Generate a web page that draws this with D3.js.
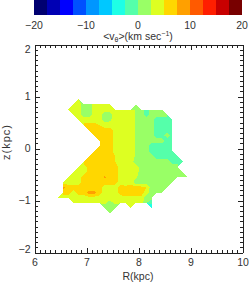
<!DOCTYPE html>
<html>
<head>
<meta charset="utf-8">
<script src="https://cdn.jsdelivr.net/npm/d3@7"></script>
<style>
  body { margin: 0; background: #fff; }
  svg { display: block; font-family: "Liberation Sans", Arial, sans-serif; }
  .lbl { fill: #333; font-size: 10.5px; }
</style>
</head>
<body>
<svg width="249" height="282"></svg>
<script>
// grid cell centres (kpc)
let rCentres = [6.45, 6.55, 6.65, 6.75, 6.85, 6.95, 7.05, 7.15, 7.25, 7.35, 7.45, 7.55, 7.65,
                7.75, 7.85, 7.95, 8.05, 8.15, 8.25, 8.35, 8.45, 8.55, 8.65, 8.75, 8.85, 8.95]
let zCentres = [0.95, 0.85, 0.75, 0.65, 0.55, 0.45, 0.35, 0.25, 0.15, 0.05, -0.05, -0.15,
                -0.25, -0.35, -0.45, -0.55, -0.65, -0.75, -0.85, -0.95, -1.05, -1.15, -1.25]

// mean v_theta (km/s), one row per z (top to bottom), null = no data
let _ = null
let vTheta = [
  [_,_,_,_,4,_,_,_,_,_,_,_,_,_,_,_,_,_,_,_,_,_,_,_,_,_],
  [_,_,_,4,4,1,1,4,4,4,4,_,_,_,_,3,_,_,_,_,_,_,_,_,_,_],
  [_,_,6,4,4,1,1,4,4,4,4,4,4,4,4,2,1,-1,1,1,1,_,_,_,_,_],
  [_,_,_,4,4,1,1,4,4,1,1,4,4,4,4,2,1,-1,1,1,1,1,_,_,_,_],
  [_,_,_,_,4,4,4,4,4,1,2,4,4,4,4,2,1,1,1,-1,-1,-1,-1,_,_,_],
  [_,_,_,_,_,6,6,6,5,4,4,4,4,4,4,2,1,1,1,-1,-1,-1,-1,_,_,_],
  [_,_,_,_,_,_,6,6,6,6,6,4,4,4,4,2,1,1,1,-1,-1,-1,-1,_,_,_],
  [_,_,_,_,_,_,_,6,6,6,6,4,4,4,4,2,1,1,1,-1,-1,1,-1,_,_,_],
  [_,_,_,_,_,_,_,_,6,6,6,4,4,4,4,2,1,1,1,1,1,-1,-1,_,_,_],
  [_,_,_,_,_,_,_,_,6,6,6,4,4,4,4,2,1,1,-1,-1,-1,-1,-1,_,_,_],
  [_,_,_,_,_,_,_,6,6,6,6,4,4,4,4,2,1,1,-1,-1,-1,-1,-1,_,_,_],
  [_,_,_,_,_,_,6,6,6,6,6,5,4,4,4,2,1,1,1,-1,-1,-1,-1,-1,_,_],
  [_,_,_,_,_,6,6,6,6,6,6,5,4,4,4,1,1,1,1,1,1,1,-1,-1,-1,_],
  [_,_,_,_,4,4,6,6,6,6,6,6,4,4,4,4,1,1,1,1,1,1,1,1,_,_],
  [_,_,_,4,4,4,6,6,6,6,6,6,4,4,4,4,1,1,1,1,1,1,1,1,1,_],
  [_,_,4,4,4,6,6,6,6,8,6,6,4,4,4,3,1,1,1,1,1,1,1,1,1,1],
  [_,4,4,4,4,6,6,6,6,6,6,6,4,4,4,1,1,1,1,1,1,1,1,_,_,_],
  [_,8.5,6,6,6,6,6,6,6,4,4,4,6,5.5,6,6,6,5,1,1,1,1,_,_,_,_],
  [_,6,6,4,6,6,8.5,8.5,6,4,4,4,6,6,6,6,6,4,1,1,1,_,_,_,_,_],
  [4,4,4,4,4,4,4,4,4,4,4,4,4,4.5,4.5,4.5,4.5,1,1,_,_,_,_,_,_,_],
  [_,_,_,4,4,4,4,4,4,3,1,3,4,4,4,4,4,0,-2,_,_,_,_,_,_,_],
  [_,_,_,_,_,_,_,_,_,1,1,1,_,_,4,_,_,_,-4,_,_,_,_,_,_,_],
  [_,_,_,_,_,_,_,_,_,_,1,_,_,_,_,_,_,_,_,_,_,_,_,_,_,_]
]

// contour levels (km/s) and their colours
let levelEdges = [-20, -17.5, -15, -12.5, -10, -7.5, -5, -2.5, 0, 2.5, 5, 7.5, 10, 12.5, 15, 17.5, 20]
let levelColors = ["#000070", "#0000b4", "#0000ff", "#0050ff", "#0096ff", "#00c8ff", "#1effe6", "#55ffaa",
                   "#99ff66", "#ddff22", "#ffd700", "#ffa000", "#ff5a00", "#ff1e00", "#c80000", "#780000"]

let barTicks = [-20, -10, 0, 10, 20]
let xTicks = [6, 7, 8, 9, 10]
let zTicks = [-2, -1, 0, 1, 2]

let svg = d3.select("svg")

let plotLeft = 34.5, plotRight = 242.5, plotTop = 44.5, plotBottom = 252.5

let xScale = d3.scaleLinear().domain([6, 10]).range([plotLeft, plotRight])
let yScale = d3.scaleLinear().domain([-2, 2]).range([plotBottom, plotTop])
let barScale = d3.scaleLinear().domain([-20, 20]).range([34, 242])

// ---- colour bar
svg.append("g")
   .selectAll("rect")
   .data(levelColors)
   .enter()
   .append("rect")
   .attr("x", (c, i) => barScale(levelEdges[i]))
   .attr("y", 0)
   .attr("width", (c, i) => barScale(levelEdges[i + 1]) - barScale(levelEdges[i]))
   .attr("height", 15)
   .attr("fill", c => c)
   .attr("shape-rendering", "crispEdges")

svg.append("g")
   .selectAll("text")
   .data(barTicks)
   .enter()
   .append("text")
   .attr("class", "lbl")
   .attr("x", d => barScale(d))
   .attr("y", 29)
   .attr("text-anchor", "middle")
   .text(d3.format("d"))

let title = svg.append("text")
   .attr("class", "lbl")
   .attr("x", 138)
   .attr("y", 40)
   .attr("text-anchor", "middle")
title.append("tspan").text("<v")
title.append("tspan").attr("font-size", "7px").attr("dy", 2).text("θ")
title.append("tspan").attr("dy", -2).text(">(km sec")
title.append("tspan").attr("font-size", "7px").attr("dy", -4).text("−1")
title.append("tspan").attr("dy", 4).text(")")

// ---- filled contours
let nx = rCentres.length, ny = zCentres.length
let flat = []
vTheta.forEach(row => row.forEach(v => flat.push(v == null ? -1e9 : v)))

let vmin = d3.min(flat.filter(v => v > -1e8))
let thresholds = levelEdges.slice(0, -1)
let first = d3.max(thresholds.map((t, i) => t <= vmin ? i : 0))

let dR = rCentres[1] - rCentres[0]
let dz = zCentres[1] - zCentres[0]
let gridToPlot = d3.geoTransform({
  point: function(x, y) {
    this.stream.point(xScale(rCentres[0] + (x - 0.5) * dR), yScale(zCentres[0] + (y - 0.5) * dz))
  }
})
let path = d3.geoPath(gridToPlot)

let contours = d3.contours().size([nx, ny]).thresholds(thresholds)(flat)

svg.append("g")
   .selectAll("path")
   .data(contours.filter((c, i) => i >= first))
   .enter()
   .append("path")
   .attr("d", path)
   .attr("fill", c => levelColors[thresholds.indexOf(c.value)])
   .attr("shape-rendering", "crispEdges")

// ---- axes (ticks on all four sides, inward)
let minorX = d3.range(60, 101).map(d => d / 10)
let minorZ = d3.range(-20, 21).map(d => d / 10)

function addAxis(axis, transform, values, size, labels) {
  let g = svg.append("g")
     .attr("transform", transform)
     .call(axis.tickValues(values).tickSize(-size).tickSizeOuter(0)
               .tickFormat(labels ? d3.format("d") : ""))
  g.attr("font-family", null).attr("font-size", null)
  g.selectAll("path, line").attr("stroke", "#222").attr("shape-rendering", "crispEdges")
  g.selectAll("text").attr("class", "lbl").attr("fill", null)
  return g
}

addAxis(d3.axisBottom(xScale), `translate(0,${plotBottom})`, minorX, 3, false)
addAxis(d3.axisTop(xScale), `translate(0,${plotTop})`, minorX, 3, false)
addAxis(d3.axisLeft(yScale), `translate(${plotLeft},0)`, minorZ, 3, false)
addAxis(d3.axisRight(yScale), `translate(${plotRight},0)`, minorZ, 3, false)

addAxis(d3.axisBottom(xScale).tickPadding(6), `translate(0,${plotBottom})`, xTicks, 5, true)
addAxis(d3.axisTop(xScale), `translate(0,${plotTop})`, xTicks, 5, false)
let yAxisG = addAxis(d3.axisLeft(yScale).tickPadding(4), `translate(${plotLeft},0)`, zTicks, 5, true)
addAxis(d3.axisRight(yScale), `translate(${plotRight},0)`, zTicks, 5, false)

// end labels sit inside the frame, as in the original
yAxisG.selectAll("text").attr("y", d => d === 2 ? 5 : d === -2 ? -3 : 0)

svg.append("text")
   .attr("class", "lbl")
   .attr("x", 138)
   .attr("y", 280)
   .attr("text-anchor", "middle")
   .text("R(kpc)")

svg.append("text")
   .attr("class", "lbl")
   .style("font-size", "11px")
   .style("letter-spacing", "1px")
   .attr("transform", "translate(10,142) rotate(-90)")
   .attr("text-anchor", "middle")
   .text("z(kpc)")
</script>
</body>
</html>
